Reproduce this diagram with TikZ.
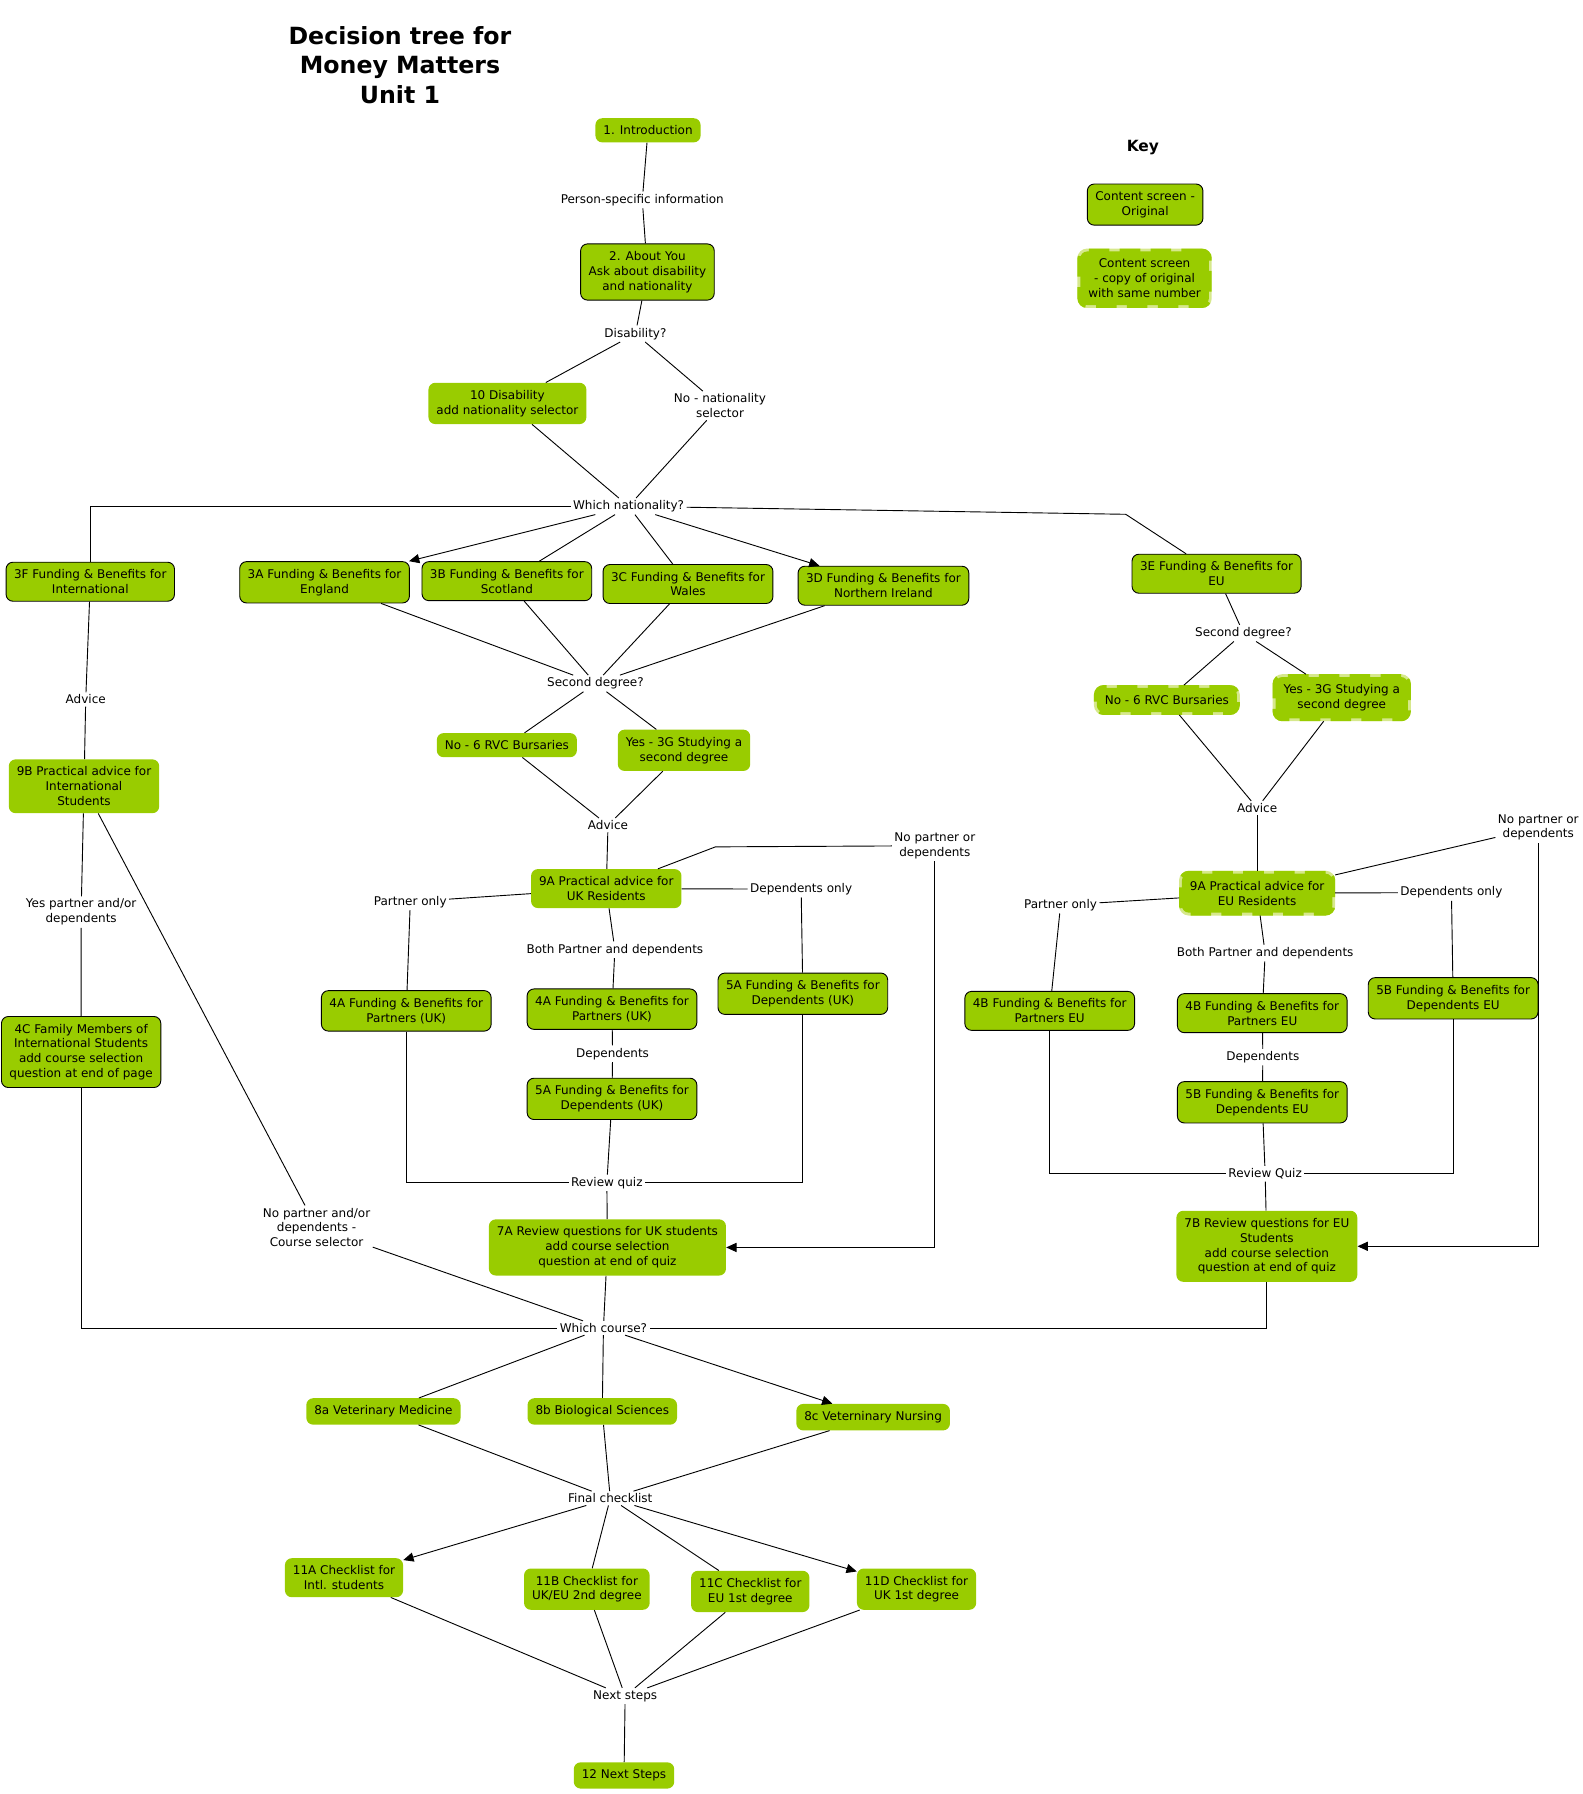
\documentclass[tikz,border=0pt]{standalone}
\usepackage{fontspec}
\setmainfont{DejaVu Sans}
\usepackage{tikz}
\usetikzlibrary{arrows.meta}
\definecolor{screengreen}{RGB}{153,204,0}
\definecolor{copygap}{RGB}{214,232,140}

\begin{document}
\begin{tikzpicture}[x=1pt, y=-1pt, font=\fontsize{10.5}{13}\selectfont,
    screen/.style={rectangle, rounded corners=6pt, fill=screengreen, align=center, inner xsep=7pt, inner ysep=6.5pt},
    original/.style={screen, draw=black, line width=0.8pt},
    copyscreen/.style={screen, preaction={draw=copygap, solid, line width=5pt}, draw=screengreen, line width=5pt, dash pattern=on 18pt off 9pt},
    edgetext/.style={align=center, inner sep=2pt},
    link/.style={draw, line width=0.8pt},
    arrowlink/.style={link, -{Triangle[length=9pt, width=8pt]}}]
    \useasboundingbox (0,0) rectangle (1385.1,1569.75);

    \node[edgetext, font=\fontsize{20.7}{25.5}\selectfont\bfseries] (title) at (350,57) {Decision tree for\\Money Matters\\Unit 1};
    \node[edgetext, font=\fontsize{13.5}{16}\selectfont\bfseries] (keytitle) at (1000,129) {Key};
    \node[original] (keyorig) at (1002,179) {Content screen -\\Original};
    \node[copyscreen] (keycopy) at (1001.5,243.5) {Content screen\\- copy of original\\with same number};

    \node[screen] (intro) at (567,114) {1. Introduction};
    \node[edgetext] (personq) at (562,175) {Person-specific information};
    \node[original] (about) at (566.5,238) {2. About You\\Ask about disability\\and nationality};
    \node[edgetext] (disq) at (556,292) {Disability?};
    \node[screen] (dis10) at (444,353) {10 Disability\\add nationality selector};
    \node[edgetext] (nonat) at (630,355) {No - nationality\\selector};
    \node[edgetext] (natq) at (550,443) {Which nationality?};

    \node[original] (intl3F) at (79,509) {3F Funding \& Benefits for\\International};
    \node[original] (eng3A) at (284,509.5) {3A Funding \& Benefits for\\England};
    \node[original] (sco3B) at (443.5,508.5) {3B Funding \& Benefits for\\Scotland};
    \node[original] (wal3C) at (602,511) {3C Funding \& Benefits for\\Wales};
    \node[original] (ni3D) at (773,512.5) {3D Funding \& Benefits for\\Northern Ireland};
    \node[original] (eu3E) at (1064.5,502) {3E Funding \& Benefits for\\EU};
    \coordinate (euturn) at (985,450);

    \node[edgetext] (sdqUK) at (521,598) {Second degree?};
    \node[screen] (bursUK) at (443.5,652) {No - 6 RVC Bursaries};
    \node[screen] (secUK) at (598.5,656.5) {Yes - 3G Studying a\\second degree};
    \node[edgetext] (advUK) at (532,722) {Advice};
    \node[screen] (ukpa) at (530.5,777.5) {9A Practical advice for\\UK Residents};
    \coordinate (ukturn) at (626,741);
    \node[edgetext] (nopUK) at (818,740) {No partner or\\dependents};
    \node[edgetext] (ponUK) at (359,789) {Partner only};
    \node[edgetext] (donUK) at (701,778) {Dependents only};
    \node[edgetext] (bothUK) at (538,831) {Both Partner and dependents};
    \node[original] (partUKa) at (355.5,884.5) {4A Funding \& Benefits for\\Partners (UK)};
    \node[original] (partUKb) at (535.5,883) {4A Funding \& Benefits for\\Partners (UK)};
    \node[original] (depUKa) at (702.5,869.5) {5A Funding \& Benefits for\\Dependents (UK)};
    \node[edgetext] (depsUK) at (536,922) {Dependents};
    \node[original] (depUKb) at (535.5,961.5) {5A Funding \& Benefits for\\Dependents (UK)};
    \node[edgetext] (rqUK) at (531,1035) {Review quiz};
    \node[screen] (ukrev) at (531.5,1091.5) {7A Review questions for UK students\\add course selection\\question at end of quiz};

    \node[edgetext] (sdqEU) at (1088,554) {Second degree?};
    \node[copyscreen] (bursEU) at (1021,612.5) {No - 6 RVC Bursaries};
    \node[copyscreen] (secEU) at (1174,610.5) {Yes - 3G Studying a\\second degree};
    \node[edgetext] (advEU) at (1100,707) {Advice};
    \node[copyscreen] (eupa) at (1100,781.5) {9A Practical advice for\\EU Residents};
    \node[edgetext] (nopEU) at (1346,724) {No partner or\\dependents};
    \node[edgetext] (ponEU) at (928,792) {Partner only};
    \node[edgetext] (donEU) at (1270,781) {Dependents only};
    \node[edgetext] (bothEU) at (1107,834) {Both Partner and dependents};
    \node[original] (partEUa) at (918.5,884.5) {4B Funding \& Benefits for\\Partners EU};
    \node[original] (partEUb) at (1104.5,886.5) {4B Funding \& Benefits for\\Partners EU};
    \node[original] (depEUa) at (1271.5,873.5) {5B Funding \& Benefits for\\Dependents EU};
    \node[edgetext] (depsEU) at (1105,925) {Dependents};
    \node[original] (depEUb) at (1104.5,964.5) {5B Funding \& Benefits for\\Dependents EU};
    \node[edgetext] (rqEU) at (1107,1027) {Review Quiz};
    \node[screen] (eurev) at (1108.5,1090.5) {7B Review questions for EU\\Students\\add course selection\\question at end of quiz};

    \node[edgetext] (advINT) at (75,612) {Advice};
    \node[screen] (intpa) at (73.5,688) {9B Practical advice for\\International\\Students};
    \node[edgetext] (yesINT) at (71,798) {Yes partner and/or\\dependents};
    \node[original] (fam4C) at (71,920.5) {4C Family Members of\\International Students\\add course selection\\question at end of page};
    \node[edgetext] (noINT) at (277,1074) {No partner and/or\\dependents -\\Course selector};

    \node[edgetext] (courseq) at (528,1162) {Which course?};
    \node[screen] (vetmed) at (335.5,1235) {8a Veterinary Medicine};
    \node[screen] (biosci) at (527,1235) {8b Biological Sciences};
    \node[screen] (vetnurse) at (764,1240) {8c Veterninary Nursing};
    \node[edgetext] (finalq) at (534,1311) {Final checklist};
    \node[screen] (chkA) at (301,1380.5) {11A Checklist for\\Intl. students};
    \node[screen] (chkB) at (513.5,1390.5) {11B Checklist for\\UK/EU 2nd degree};
    \node[screen] (chkC) at (656.5,1392.5) {11C Checklist for\\EU 1st degree};
    \node[screen] (chkD) at (802,1390.5) {11D Checklist for\\UK 1st degree};
    \node[edgetext] (nextq) at (547,1484) {Next steps};
    \node[screen] (next12) at (546,1553.5) {12 Next Steps};

    \draw[link] (intro) -- (personq) -- (about);
    \draw[link] (about) -- (disq);
    \draw[link] (disq) -- (dis10) -- (natq);
    \draw[link] (disq) -- (nonat) -- (natq);
    \draw[link] (natq) -| (intl3F);
    \draw[arrowlink] (natq) -- (eng3A);
    \draw[link] (natq) -- (sco3B);
    \draw[link] (natq) -- (wal3C);
    \draw[arrowlink] (natq) -- (ni3D);
    \draw[link] (natq) -- (euturn) -- (eu3E);

    \draw[link] (eng3A) -- (sdqUK);
    \draw[link] (sco3B) -- (sdqUK);
    \draw[link] (wal3C) -- (sdqUK);
    \draw[link] (ni3D) -- (sdqUK);
    \draw[link] (sdqUK) -- (bursUK) -- (advUK);
    \draw[link] (sdqUK) -- (secUK) -- (advUK);
    \draw[link] (advUK) -- (ukpa);
    \draw[link] (ukpa) -- (ukturn) -- (nopUK);
    \draw[arrowlink] (nopUK) |- (ukrev);
    \draw[link] (ukpa) -- (ponUK) -- (partUKa);
    \draw[link] (ukpa) -- (donUK) -- (depUKa);
    \draw[link] (ukpa) -- (bothUK) -- (partUKb) -- (depsUK) -- (depUKb) -- (rqUK) -- (ukrev);
    \draw[link] (partUKa) |- (rqUK);
    \draw[link] (depUKa) |- (rqUK);

    \draw[link] (eu3E) -- (sdqEU);
    \draw[link] (sdqEU) -- (bursEU) -- (advEU);
    \draw[link] (sdqEU) -- (secEU) -- (advEU);
    \draw[link] (advEU) -- (eupa);
    \draw[link] (eupa) -- (nopEU);
    \draw[arrowlink] (nopEU) |- (eurev);
    \draw[link] (eupa) -- (ponEU) -- (partEUa);
    \draw[link] (eupa) -- (donEU) -- (depEUa);
    \draw[link] (eupa) -- (bothEU) -- (partEUb) -- (depsEU) -- (depEUb) -- (rqEU) -- (eurev);
    \draw[link] (partEUa) |- (rqEU);
    \draw[link] (depEUa) |- (rqEU);

    \draw[link] (intl3F) -- (advINT) -- (intpa);
    \draw[link] (intpa) -- (yesINT) -- (fam4C);
    \draw[link] (intpa) -- (noINT) -- (courseq);
    \draw[link] (fam4C) |- (courseq);
    \draw[link] (ukrev) -- (courseq);
    \draw[link] (eurev) |- (courseq);

    \draw[link] (courseq) -- (vetmed) -- (finalq);
    \draw[link] (courseq) -- (biosci) -- (finalq);
    \draw[arrowlink] (courseq) -- (vetnurse);
    \draw[link] (vetnurse) -- (finalq);
    \draw[arrowlink] (finalq) -- (chkA);
    \draw[link] (finalq) -- (chkB) -- (nextq);
    \draw[link] (finalq) -- (chkC) -- (nextq);
    \draw[arrowlink] (finalq) -- (chkD);
    \draw[link] (chkA) -- (nextq);
    \draw[link] (chkD) -- (nextq);
    \draw[link] (nextq) -- (next12);
\end{tikzpicture}
\end{document}
